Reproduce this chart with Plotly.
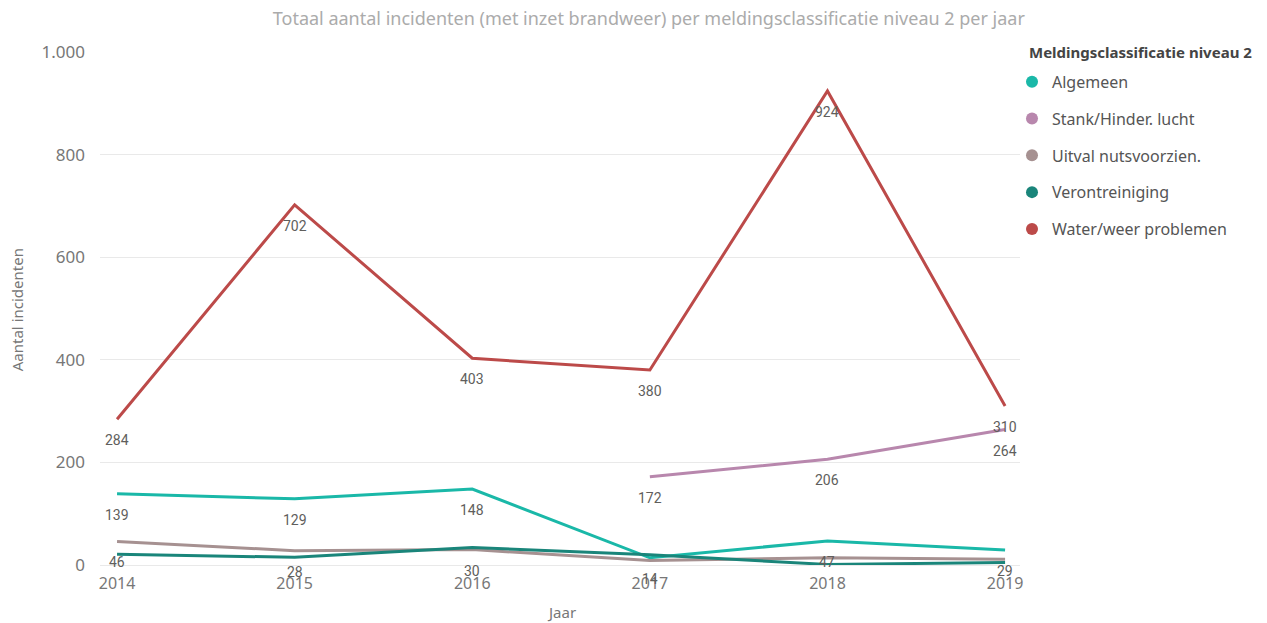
import plotly.graph_objects as go

# data
jaren = [2014, 2015, 2016, 2017, 2018, 2019]
series_names = ["Algemeen", "Stank/Hinder. lucht", "Uitval nutsvoorzien.",
                "Verontreiniging", "Water/weer problemen"]
algemeen = [139, 129, 148, 14, 47, 29]
stank = [None, None, None, 172, 206, 264]
uitval = [46, 28, 30, 9, 14, 11]
verontreiniging = [21, 15, 34, 20, 1, 5]
water_weer = [284, 702, 403, 380, 924, 310]

# which points get a visible data label (Power BI hides overlapping ones)
show_label = {
    "Algemeen": [True, True, True, True, True, True],
    "Stank/Hinder. lucht": [False, False, False, True, True, True],
    "Uitval nutsvoorzien.": [True, True, True, False, False, False],
    "Verontreiniging": [False] * 6,
    "Water/weer problemen": [True] * 6,
}

colors = {
    "Algemeen": "#1AB8A8",
    "Stank/Hinder. lucht": "#B887AD",
    "Uitval nutsvoorzien.": "#A69191",
    "Verontreiniging": "#1A857A",
    "Water/weer problemen": "#BC4A49",
}

values = {
    "Algemeen": algemeen,
    "Stank/Hinder. lucht": stank,
    "Uitval nutsvoorzien.": uitval,
    "Verontreiniging": verontreiniging,
    "Water/weer problemen": water_weer,
}

fig = go.Figure()

# lines
for name in series_names:
    fig.add_trace(go.Scatter(
        x=jaren, y=values[name], mode="lines", name=name,
        line=dict(color=colors[name], width=3),
        showlegend=False, connectgaps=False,
    ))

# legend-only circle entries
for name in series_names:
    fig.add_trace(go.Scatter(
        x=[None], y=[None], mode="markers", name=name,
        marker=dict(symbol="circle", size=15, color=colors[name]),
        legendgroup=name, showlegend=True,
    ))

# data labels below the points
annotations = []
for name in series_names:
    for x, v, show in zip(jaren, values[name], show_label[name]):
        if v is None or not show:
            continue
        annotations.append(dict(
            x=x, y=v, xref="x", yref="y", text=str(v), showarrow=False,
            yshift=-21, font=dict(family="Roboto", size=14, color="#605E5C"),
        ))

# axis titles and legend title as annotations for exact placement
annotations.append(dict(
    text="Jaar", xref="paper", yref="paper", x=0.502, y=-0.092,
    xanchor="center", yanchor="middle", showarrow=False,
    font=dict(family="Noto Sans", size=15, color="#777777"),
))
annotations.append(dict(
    text="Aantal incidenten", xref="paper", yref="paper", x=-0.090, y=0.497,
    xanchor="center", yanchor="middle", showarrow=False, textangle=-90,
    font=dict(family="Noto Sans", size=15, color="#777777"),
))
annotations.append(dict(
    text="<b>Meldingsclassificatie niveau 2</b>", xref="paper", yref="paper",
    x=1.0076, y=1.0, xanchor="left", yanchor="middle", showarrow=False,
    font=dict(family="Noto Sans", size=15, color="#444444"),
))

fig.update_layout(
    width=1259, height=615,
    paper_bgcolor="white", plot_bgcolor="white",
    separators=",.",
    margin=dict(l=92, r=247, t=44, b=58, autoexpand=False),
    font=dict(family="Noto Sans", color="#777777"),
    title=dict(
        text="Totaal aantal incidenten (met inzet brandweer) per meldingsclassificatie niveau 2 per jaar",
        x=0.509, xanchor="center", y=0.983, yanchor="middle",
        font=dict(family="Noto Sans", size=18, color="#ABABAB"),
    ),
    legend=dict(
        x=(1012 - 8 - 92) / 920, xanchor="left", y=0.975, yanchor="top",
        font=dict(family="Noto Sans", size=16, color="#555555"),
        tracegroupgap=13, itemsizing="constant", itemwidth=30,
        bgcolor="rgba(0,0,0,0)",
    ),
    annotations=annotations,
    showlegend=True,
)

fig.update_xaxes(
    range=[2013.904, 2019.084],
    tickvals=jaren, ticktext=[str(j) for j in jaren],
    showgrid=False, zeroline=False, showline=False,
    tickfont=dict(family="Noto Sans", size=16, color="#777777"),
    ticklabelstandoff=7, automargin=False,
)
fig.update_yaxes(
    range=[0, 1000],
    tickvals=[0, 200, 400, 600, 800, 1000],
    tickformat=",d",
    showgrid=True, gridcolor="#E9E9E9", gridwidth=1,
    zeroline=True, zerolinecolor="#E9E9E9", zerolinewidth=1,
    showline=False,
    tickfont=dict(family="Noto Sans", size=17, color="#777777"),
    ticklabelstandoff=14, automargin=False,
)

fig.write_html("out.html")
